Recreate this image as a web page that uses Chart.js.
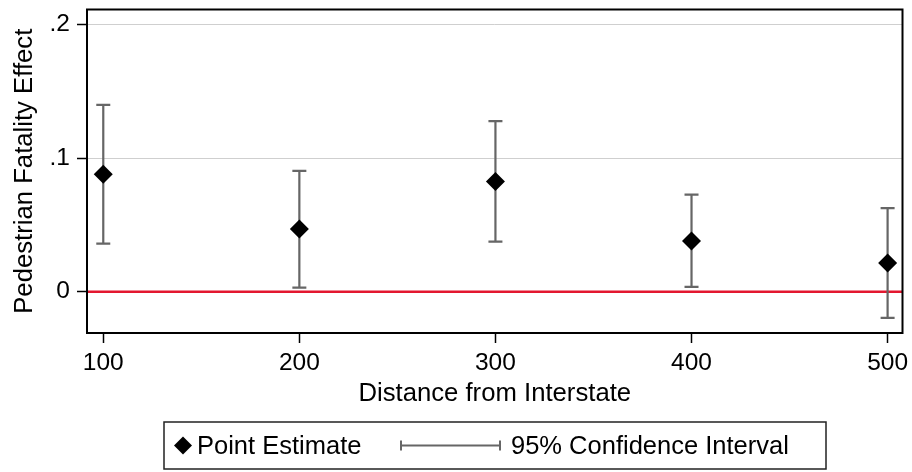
<!DOCTYPE html>
<html>
<head>
<meta charset="utf-8">
<script src="https://cdn.jsdelivr.net/npm/chart.js@4/dist/chart.umd.min.js"></script>
<style>
  html, body { margin: 0; padding: 0; background: #fff; }
  #wrap { width: 912px; height: 472px; }
</style>
</head>
<body>
<div id="wrap"><canvas id="chart" width="912" height="472"></canvas></div>
<script>
  "use strict";

  // data
  const distance = [100, 200, 300, 400, 500];
  const estimate = [0.088, 0.047, 0.0825, 0.038, 0.0215];
  const ciLow = [0.036, 0.003, 0.0375, 0.0035, -0.0197];
  const ciHigh = [0.140, 0.0905, 0.1277, 0.0727, 0.0625];

  const xTickValues = [100, 200, 300, 400, 500];
  const yTickValues = [0, 0.1, 0.2];
  const yTickLabels = ["0", ".1", ".2"];

  const legendLabels = ["Point Estimate", "95% Confidence Interval"];

  const FONT = "'Liberation Sans', Arial, Helvetica, sans-serif";
  const CI_COLOR = "#666666";
  const ZERO_COLOR = "#e3172f";

  function get(id) {
    return document.getElementById(id);
  }

  // red zero line + error bars, under the diamonds
  const errorBars = {
    id: "errorBars",
    beforeDatasetsDraw(chart) {
      const ctx = chart.ctx;
      const xs = chart.scales.x;
      const ys = chart.scales.y;
      const area = chart.chartArea;
      ctx.save();

      const y0 = ys.getPixelForValue(0);
      ctx.strokeStyle = ZERO_COLOR;
      ctx.lineWidth = 2.5;
      ctx.beginPath();
      ctx.moveTo(area.left, y0);
      ctx.lineTo(area.right, y0);
      ctx.stroke();

      ctx.strokeStyle = CI_COLOR;
      ctx.lineWidth = 2.2;
      const cap = 7;
      distance.forEach((d, i) => {
        const x = xs.getPixelForValue(d);
        const lo = ys.getPixelForValue(ciLow[i]);
        const hi = ys.getPixelForValue(ciHigh[i]);
        ctx.beginPath();
        ctx.moveTo(x, lo);
        ctx.lineTo(x, hi);
        ctx.moveTo(x - cap, lo);
        ctx.lineTo(x + cap, lo);
        ctx.moveTo(x - cap, hi);
        ctx.lineTo(x + cap, hi);
        ctx.stroke();
      });
      ctx.restore();
    },
  };

  // frame round the plot and the boxed legend underneath
  const frameAndLegend = {
    id: "frameAndLegend",
    afterDraw(chart) {
      const ctx = chart.ctx;
      const area = chart.chartArea;
      ctx.save();
      ctx.strokeStyle = "#000";
      ctx.lineWidth = 2;
      ctx.strokeRect(area.left, area.top, area.right - area.left, area.bottom - area.top);

      const boxW = 662;
      const boxTop = 422;
      const boxH = 47;
      const left = Math.round((area.left + area.right) / 2 - boxW / 2);
      const midY = boxTop + boxH / 2;
      ctx.lineWidth = 1.5;
      ctx.strokeStyle = "#222";
      ctx.strokeRect(left, boxTop, boxW, boxH);

      // diamond key
      const dx = left + 19;
      const r = 9;
      ctx.fillStyle = "#000";
      ctx.beginPath();
      ctx.moveTo(dx, midY - r);
      ctx.lineTo(dx + r, midY);
      ctx.lineTo(dx, midY + r);
      ctx.lineTo(dx - r, midY);
      ctx.closePath();
      ctx.fill();

      ctx.font = "25.5px " + FONT;
      ctx.textBaseline = "middle";
      ctx.textAlign = "left";
      ctx.fillText(legendLabels[0], left + 33, midY + 1);

      // capped line key
      const lx0 = left + 237;
      const lx1 = left + 336;
      ctx.strokeStyle = CI_COLOR;
      ctx.lineWidth = 2;
      ctx.beginPath();
      ctx.moveTo(lx0, midY);
      ctx.lineTo(lx1, midY);
      ctx.moveTo(lx0, midY - 5);
      ctx.lineTo(lx0, midY + 5);
      ctx.moveTo(lx1, midY - 5);
      ctx.lineTo(lx1, midY + 5);
      ctx.stroke();

      ctx.fillStyle = "#000";
      ctx.fillText(legendLabels[1], left + 347, midY + 1);
      ctx.restore();
    },
  };

  const points = distance.map((d, i) => ({ x: d, y: estimate[i] }));

  new Chart(get("chart").getContext("2d"), {
    type: "scatter",
    data: {
      datasets: [{
        label: legendLabels[0],
        data: points,
        pointStyle: "rectRot",
        pointRadius: 9.5,
        pointHoverRadius: 9.5,
        pointBackgroundColor: "#000",
        pointBorderColor: "#000",
        pointBorderWidth: 0,
      }],
    },
    options: {
      responsive: false,
      animation: false,
      events: [],
      layout: { padding: { top: 5, right: 8, left: 0, bottom: 63 } },
      plugins: {
        legend: { display: false },
        tooltip: { enabled: false },
      },
      scales: {
        x: {
          type: "linear",
          min: 91.7,
          max: 507.6,
          afterBuildTicks: (s) => { s.ticks = xTickValues.map((v) => ({ value: v })); },
          afterFit: (s) => { s.height = 76; s.paddingLeft = 0; s.paddingRight = 0; },
          border: { display: false },
          grid: { drawOnChartArea: false, drawTicks: true, tickLength: 10, tickColor: "#000", tickWidth: 1.5 },
          ticks: { color: "#000", padding: 6, maxRotation: 0, font: { family: FONT, size: 24.5 } },
          title: {
            display: true,
            text: "Distance from Interstate",
            color: "#000",
            padding: { top: 0, bottom: 0 },
            font: { family: FONT, size: 25.7 },
          },
        },
        y: {
          type: "linear",
          min: -0.031,
          max: 0.2114,
          afterBuildTicks: (s) => { s.ticks = yTickValues.map((v) => ({ value: v })); },
          afterFit: (s) => { s.width = 87; s.paddingTop = 0; s.paddingBottom = 0; },
          border: { display: false },
          grid: {
            color: (c) => (c.tick && c.tick.value === 0 ? "rgba(0,0,0,0)" : "#cfcfcf"),
            lineWidth: 1,
            drawTicks: true,
            tickLength: 10,
            tickColor: "#000",
            tickWidth: 1.5,
          },
          ticks: {
            color: "#000",
            padding: 7,
            font: { family: FONT, size: 24.5 },
            callback: (v) => {
              const i = yTickValues.indexOf(v);
              return i >= 0 ? yTickLabels[i] : "";
            },
          },
          title: {
            display: true,
            text: "Pedestrian Fatality Effect",
            color: "#000",
            padding: { top: 9, bottom: 0 },
            font: { family: FONT, size: 25.7 },
          },
        },
      },
    },
    plugins: [errorBars, frameAndLegend],
  });
</script>
</body>
</html>
